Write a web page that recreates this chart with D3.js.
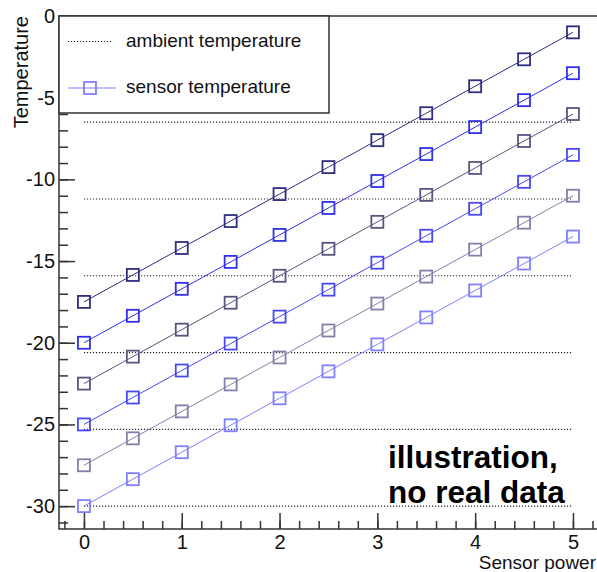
<!DOCTYPE html>
<html>
<head>
<meta charset="utf-8">
<script src="https://cdn.jsdelivr.net/npm/d3@7"></script>
<style>
  body { margin: 0; background: #fff; }
  svg { display: block; font-family: "Liberation Sans", Arial, sans-serif; }
</style>
</head>
<body>
<div id="app"></div>
<script>
// sensor power values (x)
var powerValues = [0, 0.5, 1, 1.5, 2, 2.5, 3, 3.5, 4, 4.5, 5];

// sensor temperature, one list per ambient setting
var sensor1 = [-17.5, -15.85, -14.2, -12.55, -10.9, -9.25, -7.6, -5.95, -4.3, -2.65, -1.0];
var sensor2 = [-20, -18.35, -16.7, -15.05, -13.4, -11.75, -10.1, -8.45, -6.8, -5.15, -3.5];
var sensor3 = [-22.5, -20.85, -19.2, -17.55, -15.9, -14.25, -12.6, -10.95, -9.3, -7.65, -6.0];
var sensor4 = [-25, -23.35, -21.7, -20.05, -18.4, -16.75, -15.1, -13.45, -11.8, -10.15, -8.5];
var sensor5 = [-27.5, -25.85, -24.2, -22.55, -20.9, -19.25, -17.6, -15.95, -14.3, -12.65, -11.0];
var sensor6 = [-30, -28.35, -26.7, -25.05, -23.4, -21.75, -20.1, -18.45, -16.8, -15.15, -13.5];

// ambient temperature levels (dotted lines)
var ambientLevels = [-6.5, -11.2, -15.9, -20.6, -25.3, -30];

var xTickLabels = [0, 1, 2, 3, 4, 5];
var yTickLabels = [0, -5, -10, -15, -20, -25, -30];

var seriesColors = ["#2e2e80", "#3030e8", "#555580", "#4848f2", "#8080aa", "#7f7fff"];
var allSeries = [sensor1, sensor2, sensor3, sensor4, sensor5, sensor6];

var svgWidth = 597, svgHeight = 572;
var frame = {left: 59, top: 16, right: 598, bottom: 529};

var svg = d3.select("#app").append("svg")
    .attr("width", svgWidth)
    .attr("height", svgHeight);

var x = d3.scaleLinear().domain([-0.25, 5.25]).range([59.5, 597.4]);
var y = d3.scaleLinear().domain([-31.4, 0]).range([frame.bottom, frame.top]);

// ambient dotted lines
svg.append("g").selectAll("line")
    .data(ambientLevels)
    .enter().append("line")
    .attr("x1", x(0))
    .attr("x2", x(5))
    .attr("y1", function(d){ return y(d); })
    .attr("y2", function(d){ return y(d); })
    .attr("stroke", "#222")
    .attr("stroke-width", 1.2)
    .attr("stroke-dasharray", "1.2,1.8");

// sensor lines + open squares
var line = d3.line()
    .x(function(d, i){ return x(powerValues[i]); })
    .y(function(d){ return y(d); });

var markerSize = 12;
allSeries.forEach(function(s, k){
    var g = svg.append("g");
    g.append("path")
        .attr("d", line(s))
        .attr("fill", "none")
        .attr("stroke", seriesColors[k])
        .attr("stroke-width", 1);
    g.selectAll("rect")
        .data(s)
        .enter().append("rect")
        .attr("x", function(d, i){ return x(powerValues[i]) - markerSize/2; })
        .attr("y", function(d){ return y(d) - markerSize/2; })
        .attr("width", markerSize)
        .attr("height", markerSize)
        .attr("fill", "none")
        .attr("stroke", seriesColors[k])
        .attr("stroke-width", 1.8);
});

// axes (ticks pointing inward, ROOT style)
var axisColor = "#333";
var fmt = function(d){ return String(d); };   // plain hyphen, no U+2212
var xMinor = d3.range(-1, 27).map(function(i){ return i * 0.2; }).filter(function(v){ return v <= 5.25; });
var yMinor = d3.range(-31, 1);

svg.append("g")
    .attr("transform", "translate(0," + frame.bottom + ")")
    .call(d3.axisBottom(x).tickValues(xMinor).tickSize(-8).tickFormat("").tickSizeOuter(0));
var xAxisMajor = svg.append("g")
    .attr("transform", "translate(0," + frame.bottom + ")")
    .call(d3.axisBottom(x).tickValues(xTickLabels).tickSize(-16).tickPadding(6).tickFormat(fmt).tickSizeOuter(0));
svg.append("g")
    .attr("transform", "translate(" + frame.left + ",0)")
    .call(d3.axisLeft(y).tickValues(yMinor).tickSize(-9).tickFormat("").tickSizeOuter(0));
var yAxisMajor = svg.append("g")
    .attr("transform", "translate(" + frame.left + ",0)")
    .call(d3.axisLeft(y).tickValues(yTickLabels).tickSize(-16).tickPadding(4).tickFormat(fmt).tickSizeOuter(0));

svg.selectAll(".domain").remove();
svg.selectAll(".tick line").attr("stroke", axisColor).attr("stroke-width", 1.5);
svg.selectAll(".tick text")
    .attr("fill", "#111")
    .style("font-size", "20px")
    .style("font-family", "'Liberation Sans', Arial, sans-serif");
xAxisMajor.selectAll(".tick text").attr("y", 6);
yAxisMajor.selectAll(".tick text").attr("x", -4);

// frame lines (left, bottom, top)
svg.append("path")
    .attr("d", "M" + frame.right + "," + frame.top + "H" + frame.left + "V" + frame.bottom + "H" + frame.right)
    .attr("fill", "none")
    .attr("stroke", axisColor)
    .attr("stroke-width", 1.5);

// axis titles
svg.append("text")
    .attr("x", 596)
    .attr("y", 569)
    .attr("text-anchor", "end")
    .style("font-size", "19px")
    .attr("fill", "#111")
    .text("Sensor power");
svg.append("text")
    .attr("transform", "translate(28,16) rotate(-90)")
    .attr("text-anchor", "end")
    .style("font-size", "20px")
    .attr("fill", "#111")
    .text("Temperature");

// legend
var legend = svg.append("g");
legend.append("rect")
    .attr("x", frame.left).attr("y", frame.top)
    .attr("width", 329 - frame.left).attr("height", 113 - frame.top)
    .attr("fill", "#fff")
    .attr("stroke", axisColor)
    .attr("stroke-width", 1.5);
legend.append("line")
    .attr("x1", 68).attr("x2", 113).attr("y1", 41.5).attr("y2", 41.5)
    .attr("stroke", "#222").attr("stroke-width", 1.2).attr("stroke-dasharray", "1.2,1.8");
legend.append("text")
    .attr("x", 126).attr("y", 47)
    .style("font-size", "19px").attr("fill", "#111")
    .text("ambient temperature");
legend.append("line")
    .attr("x1", 68).attr("x2", 116).attr("y1", 88).attr("y2", 88)
    .attr("stroke", "#7f7fff");
legend.append("rect")
    .attr("x", 90 - markerSize/2).attr("y", 88 - markerSize/2)
    .attr("width", markerSize).attr("height", markerSize)
    .attr("fill", "none").attr("stroke", "#7f7fff").attr("stroke-width", 1.8);
legend.append("text")
    .attr("x", 126).attr("y", 93)
    .style("font-size", "19px").attr("fill", "#111")
    .text("sensor temperature");

// annotation
var note = svg.append("text")
    .attr("x", 388)
    .style("font-size", "31.5px")
    .style("font-weight", "bold")
    .attr("fill", "#000");
note.append("tspan").attr("x", 388).attr("y", 468).text("illustration,");
note.append("tspan").attr("x", 388).attr("y", 503).text("no real data");
</script>
</body>
</html>
